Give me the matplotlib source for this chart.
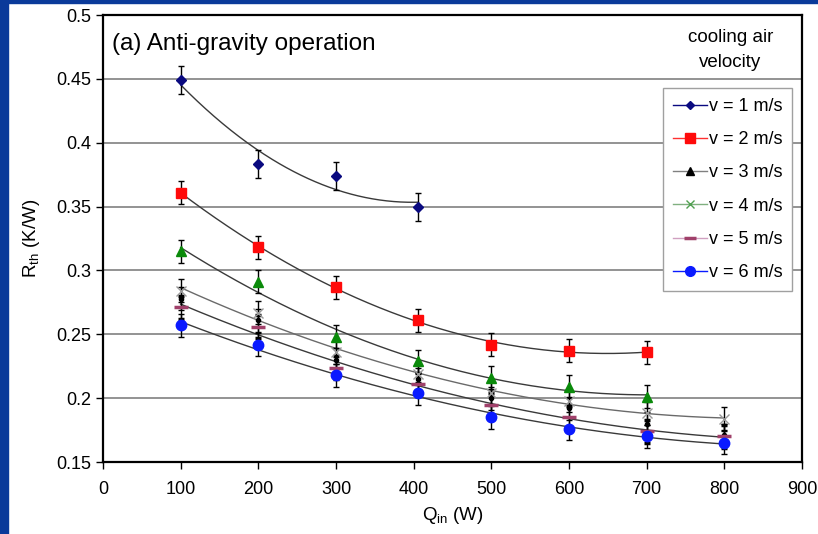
import numpy as np
import matplotlib
matplotlib.use('Agg')
import matplotlib.pyplot as plt
from matplotlib.lines import Line2D
from matplotlib.patches import Rectangle

plt.rcParams['font.family'] = ['Liberation Sans', 'DejaVu Sans']

# Data (Q_in in W, R_th in K/W)
q_short = [100, 200, 300, 405]
q_mid = [100, 200, 300, 405, 500, 600, 700]
q_long = [100, 200, 300, 405, 500, 600, 700, 800]

r_v1 = [0.449, 0.383, 0.374, 0.350]
r_v2 = [0.361, 0.318, 0.287, 0.261, 0.242, 0.237, 0.236]
r_green = [0.315, 0.291, 0.248, 0.229, 0.216, 0.209, 0.201]
r_cross = [0.284, 0.267, 0.236, 0.219, 0.204, 0.198, 0.188, 0.184]
r_black = [0.278, 0.261, 0.230, 0.215, 0.200, 0.192, 0.180, 0.171]
r_pink = [0.271, 0.256, 0.224, 0.211, 0.195, 0.185, 0.174, 0.170]
r_blue = [0.257, 0.242, 0.218, 0.204, 0.185, 0.176, 0.170, 0.165]

err_v1 = 0.011
err_other = 0.009

legend_labels = ['v = 1 m/s', 'v = 2 m/s', 'v = 3 m/s', 'v = 4 m/s', 'v = 5 m/s', 'v = 6 m/s']

fig = plt.figure(figsize=(8.18, 5.34), dpi=100)
ax = fig.add_axes([0.1259, 0.1348, 0.8545, 0.8371])

# blue frame strips of the slide
fig.patches.append(Rectangle((0, 0), 8 / 818, 1, transform=fig.transFigure, color='#0a3a9a', zorder=0))
fig.patches.append(Rectangle((0, 1 - 3 / 534), 1, 3 / 534, transform=fig.transFigure, color='#0a3a9a', zorder=0))


def trend(x, y, color, lw=1.0):
    c = np.polyfit(x, y, 2)
    xs = np.linspace(x[0], x[-1], 200)
    ax.plot(xs, np.polyval(c, xs), color=color, lw=lw, zorder=2)


trend(q_short, r_v1, '#3a3a3a')
trend(q_mid, r_v2, '#3a3a3a')
trend(q_mid, r_green, '#3a3a3a')
trend(q_long, r_cross, '#6a6a6a')
trend(q_long, r_pink, '#3a3a3a')
trend(q_long, r_blue, '#3a3a3a')

eb = dict(ecolor='black', elinewidth=1.0, capsize=2.5, capthick=1.0, linestyle='none', zorder=3)
ax.errorbar(q_long, r_cross, yerr=err_other, marker='x', ms=7, mec='#999999', mew=1.0, **eb)
ax.errorbar(q_long, r_black, yerr=err_other, marker='o', ms=3, mfc='black', mec='black', **eb)
ax.errorbar(q_long, r_pink, yerr=err_other, marker='_', ms=10, mec='#a0406a', mew=2.5, **eb)
ax.errorbar(q_long, r_blue, yerr=err_other, marker='o', ms=7.5, mfc='#0a1aff', mec='#0a1aff', **eb)
ax.errorbar(q_mid, r_green, yerr=err_other, marker='^', ms=7, mfc='#0a8a0a', mec='#0a8a0a', **eb)
ax.errorbar(q_mid, r_v2, yerr=err_other, marker='s', ms=7.5, mfc='#ff0a0a', mec='#ff0a0a', **eb)
ax.errorbar(q_short, r_v1, yerr=err_v1, marker='D', ms=5, mfc='#0a0a80', mec='#0a0a80', **eb)

ax.set_xlim(0, 900)
ax.set_ylim(0.15, 0.5)
ax.set_xticks(np.arange(0, 901, 100))
ax.set_yticks([0.15, 0.2, 0.25, 0.3, 0.35, 0.4, 0.45, 0.5])
ax.set_yticklabels(['0.15', '0.2', '0.25', '0.3', '0.35', '0.4', '0.45', '0.5'])
ax.tick_params(direction='out', length=5, width=1, labelsize=13, colors='black')
ax.tick_params(axis='x', pad=9)
for sp in ax.spines.values():
    sp.set_linewidth(1.6)
    sp.set_color('black')
for yv in [0.2, 0.25, 0.3, 0.35, 0.4, 0.45]:
    ax.axhline(yv, color='#808080', lw=1.2, zorder=1)

ax.set_xlabel('Q$_{\\mathregular{in}}$ (W)', fontsize=13.5, labelpad=5)
ax.set_ylabel('R$_{\\mathregular{th}}$ (K/W)', fontsize=13.5, labelpad=10)

ax.text(12, 0.4775, '(a) Anti-gravity operation', fontsize=17.5, va='center', ha='left')
ax.text(808, 0.4725, 'cooling air\nvelocity', fontsize=13.5, ha='center', va='center', linespacing=1.6,
        bbox=dict(facecolor='white', edgecolor='none', pad=2), zorder=4)

handles = [
    Line2D([], [], color='#0a0a80', marker='D', ms=4, lw=1),
    Line2D([], [], color='#ff3030', marker='s', ms=7, mfc='#ff0a0a', mec='#ff0a0a', lw=1),
    Line2D([], [], color='#808080', marker='^', ms=6, mfc='black', mec='black', lw=1),
    Line2D([], [], color='#80b080', marker='x', ms=6, mec='#50a050', lw=1),
    Line2D([], [], color='#d0a0c0', marker='_', ms=8, mec='#a0406a', mew=2.5, lw=1),
    Line2D([], [], color='#0a1aff', marker='o', ms=7, mfc='#0a1aff', lw=1),
]
leg = ax.legend(handles, legend_labels, loc='upper left', bbox_to_anchor=(0.788, 0.857),
                fontsize=13, handlelength=1.9, handletextpad=0.1, labelspacing=0.9,
                borderpad=0.55, fancybox=False, framealpha=1, edgecolor='#a0a0a0')
leg.get_frame().set_linewidth(1.0)
leg.set_zorder(5)

fig.savefig('out.png', dpi=100)
